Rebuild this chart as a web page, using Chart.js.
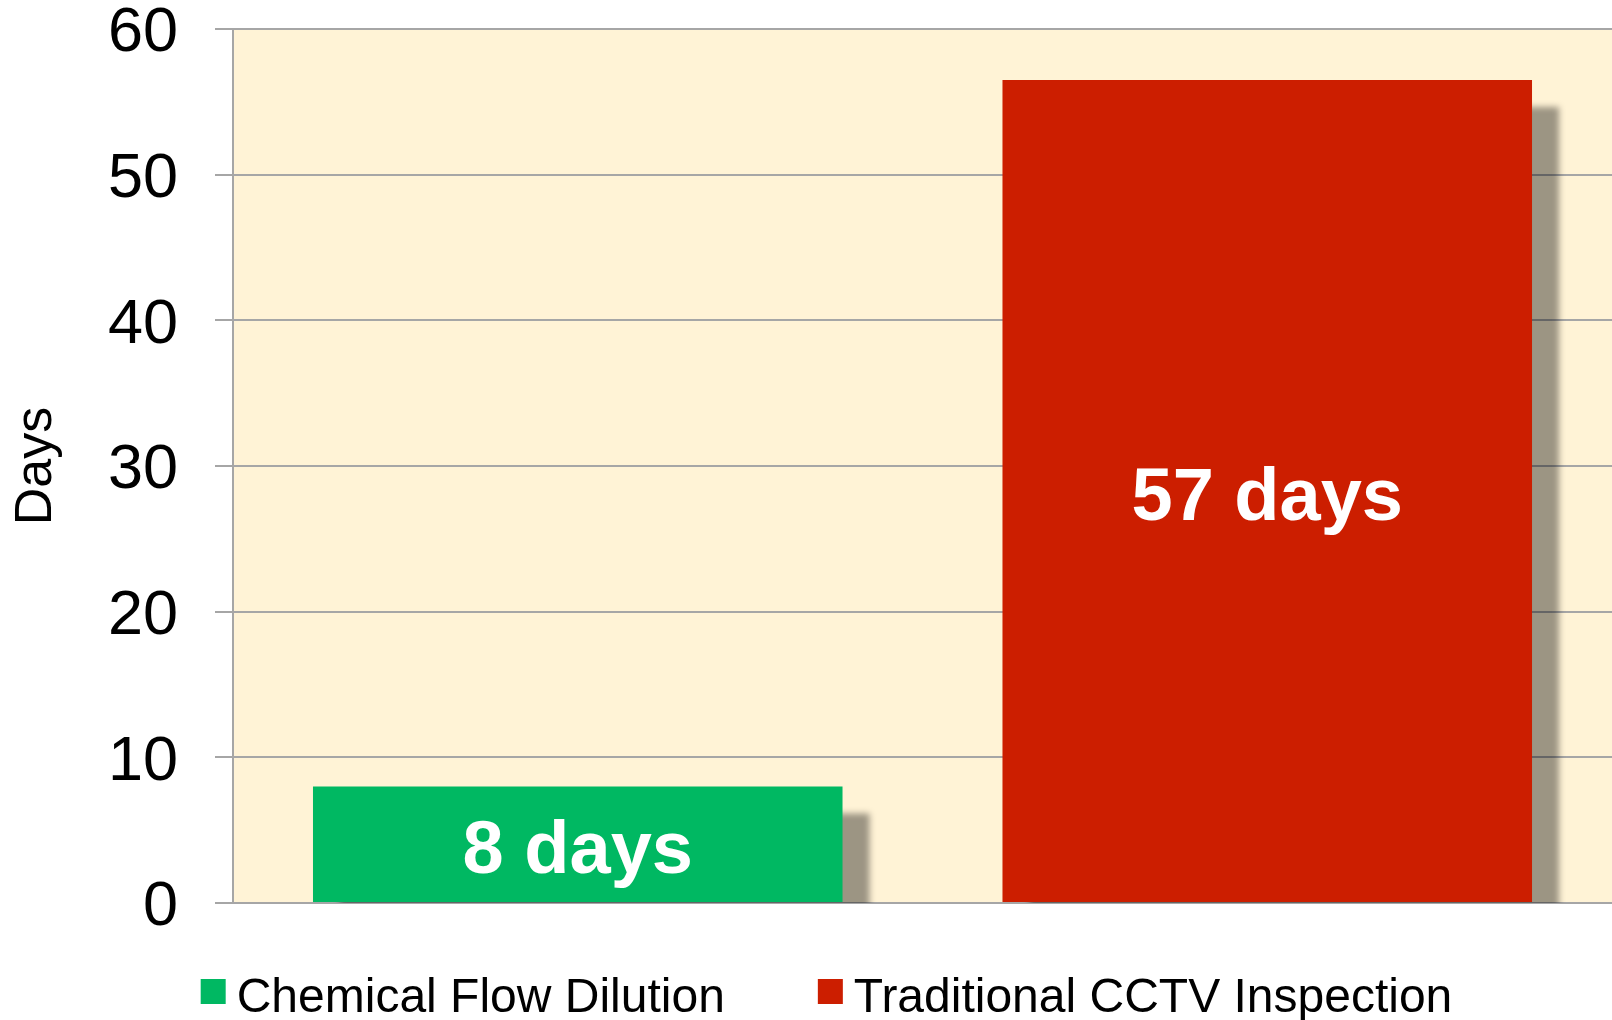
<!DOCTYPE html>
<html>
<head>
<meta charset="utf-8">
<title>Days comparison</title>
<script src="https://cdn.jsdelivr.net/npm/chart.js@4.4.1/dist/chart.umd.min.js"></script>
<style>
  html, body { margin: 0; padding: 0; background: #fff; }
  .wrap { position: relative; width: 1612px; height: 1020px; }
</style>
</head>
<body>
<div class="wrap"><canvas id="barChart"></canvas></div>
<script>
// data
const categories = ['Chemical Flow Dilution', 'Traditional CCTV Inspection'];
const daysValues = [8, 56.5];
const barLabels = ['8 days', '57 days'];
const barColors = ['#00B862', '#CC1E00'];
const yTicks = [0, 10, 20, 30, 40, 50, 60];

const FONT = '"Liberation Sans", Arial, sans-serif';
const GRID = '#A6A6A6';

// cream plot background
const plotBackground = {
    id: 'plotBackground',
    beforeDraw(chart) {
        const { ctx, chartArea } = chart;
        ctx.save();
        ctx.fillStyle = '#FFF3D6';
        ctx.fillRect(chartArea.left, chartArea.top, chartArea.right - chartArea.left, chartArea.bottom - chartArea.top);
        ctx.restore();
    }
};

// soft drop shadow behind the bars, clipped at the zero line
const barShadow = {
    id: 'barShadow',
    beforeDatasetsDraw(chart) {
        const { ctx, chartArea } = chart;
        const meta = chart.getDatasetMeta(0);
        ctx.save();
        ctx.beginPath();
        ctx.rect(chartArea.left, chartArea.top, chartArea.right - chartArea.left, chartArea.bottom - chartArea.top);
        ctx.clip();
        ctx.fillStyle = 'rgba(0, 0, 0, 0.39)';
        ctx.filter = 'blur(3px)';
        meta.data.forEach(bar => {
            const left = bar.x - bar.width / 2;
            ctx.fillRect(left + 27, bar.y + 27, bar.width, bar.base - bar.y);
        });
        ctx.restore();
    }
};

// white bold labels inside bars + legend at the bottom
const barText = {
    id: 'barText',
    afterDatasetsDraw(chart) {
        const { ctx } = chart;
        const meta = chart.getDatasetMeta(0);
        ctx.save();
        ctx.fillStyle = '#FFFFFF';
        ctx.font = 'bold 74px ' + FONT;
        ctx.textAlign = 'center';
        ctx.textBaseline = 'alphabetic';
        meta.data.forEach((bar, i) => {
            const mid = (bar.y + bar.base) / 2;
            ctx.fillText(barLabels[i], bar.x, mid + 29);
        });
        ctx.restore();
    },
    afterDraw(chart) {
        const { ctx } = chart;
        ctx.save();
        ctx.font = '48px ' + FONT;
        ctx.textBaseline = 'alphabetic';
        ctx.textAlign = 'left';
        const box = 25, gap = 11, between = 93;
        const widths = categories.map(c => ctx.measureText(c).width);
        let total = 0;
        widths.forEach((w, i) => { total += box + gap + w + (i < widths.length - 1 ? between : 0); });
        let x = 826.5 - total / 2;
        categories.forEach((c, i) => {
            ctx.fillStyle = barColors[i];
            ctx.fillRect(x, 979, box, box);
            ctx.fillStyle = '#000000';
            ctx.fillText(c, x + box + gap, 1012);
            x += box + gap + widths[i] + between;
        });
        ctx.restore();
    }
};

const barCtx = document.getElementById('barChart').getContext('2d');
const barChart = new Chart(barCtx, {
    type: 'bar',
    data: {
        labels: categories,
        datasets: [{
            label: 'Days',
            data: daysValues,
            backgroundColor: barColors,
            borderWidth: 0,
            barPercentage: 0.768,
            categoryPercentage: 1.0
        }]
    },
    options: {
        responsive: true,
        maintainAspectRatio: false,
        animation: false,
        layout: {
            padding: { top: 29, right: 0, bottom: 117, left: 0 }
        },
        plugins: {
            legend: { display: false },
            tooltip: { enabled: false }
        },
        scales: {
            x: {
                grid: { display: false },
                ticks: { display: false },
                border: { display: true, color: GRID, width: 2 },
                afterFit(scale) { scale.height = 0; }
            },
            y: {
                min: 0,
                max: 60,
                afterBuildTicks(scale) {
                    scale.ticks = yTicks.map(v => ({ value: v }));
                },
                ticks: {
                    color: '#000000',
                    padding: 37,
                    labelOffset: 5,
                    font: { family: FONT, size: 63 }
                },
                grid: {
                    color: GRID,
                    lineWidth: 2,
                    tickLength: 18,
                    drawTicks: true
                },
                border: { display: true, color: GRID, width: 2 },
                title: {
                    display: true,
                    text: 'Days',
                    color: '#000000',
                    padding: 5,
                    font: { family: FONT, size: 52 }
                },
                afterFit(scale) {
                    scale.width = 233;
                    scale.paddingTop = 0;
                    scale.paddingBottom = 0;
                }
            }
        }
    },
    plugins: [plotBackground, barShadow, barText]
});
</script>
</body>
</html>
